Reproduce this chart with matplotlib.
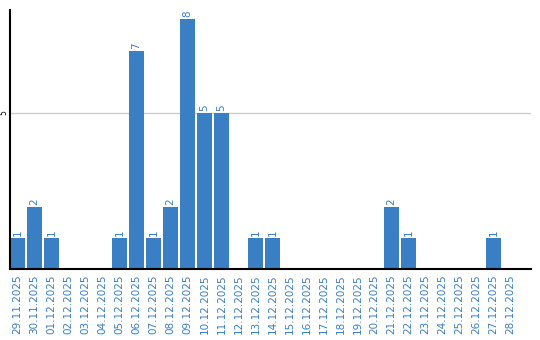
import matplotlib
matplotlib.use('Agg')
import matplotlib.pyplot as plt

dates = ['29.11.2025', '30.11.2025', '01.12.2025', '02.12.2025', '03.12.2025',
         '04.12.2025', '05.12.2025', '06.12.2025', '07.12.2025', '08.12.2025',
         '09.12.2025', '10.12.2025', '11.12.2025', '12.12.2025', '13.12.2025',
         '14.12.2025', '15.12.2025', '16.12.2025', '17.12.2025', '18.12.2025',
         '19.12.2025', '20.12.2025', '21.12.2025', '22.12.2025', '23.12.2025',
         '24.12.2025', '25.12.2025', '26.12.2025', '27.12.2025', '28.12.2025']
counts = [1, 2, 1, 0, 0, 0, 1, 7, 1, 2, 8, 5, 5, 0, 1, 1, 0, 0, 0, 0,
          0, 0, 2, 1, 0, 0, 0, 0, 1, 0]

blue = '#3a7ec4'

fig = plt.figure(figsize=(5.4, 3.4), dpi=100)
ax = fig.add_axes([10 / 540, 71 / 340, 521 / 540, 259 / 340])

x = range(len(dates))
ax.bar(x, counts, width=0.86, color=blue, zorder=2)
for i, v in zip(x, counts):
    if v > 0:
        ax.text(i, v + 0.06, str(v), rotation=90, ha='center', va='bottom',
                color=blue, fontsize=7.5)

ax.set_xlim(-0.44, 30.2)
ax.set_ylim(0, 8.3)
ax.set_yticks([5])
ax.set_yticklabels(['5'], rotation=90, fontsize=5.5, va='center')
ax.yaxis.grid(True, color='#cccccc', linewidth=1, zorder=0)
ax.tick_params(axis='y', length=0, pad=1)
ax.set_xticks(list(x))
ax.set_xticklabels(dates, rotation=90, color=blue, fontsize=7.5)
ax.tick_params(axis='x', length=0, pad=4)

for s in ['top', 'right']:
    ax.spines[s].set_visible(False)
ax.spines['left'].set_linewidth(1.5)
ax.spines['bottom'].set_linewidth(1.5)

fig.savefig('out.png', dpi=100)
